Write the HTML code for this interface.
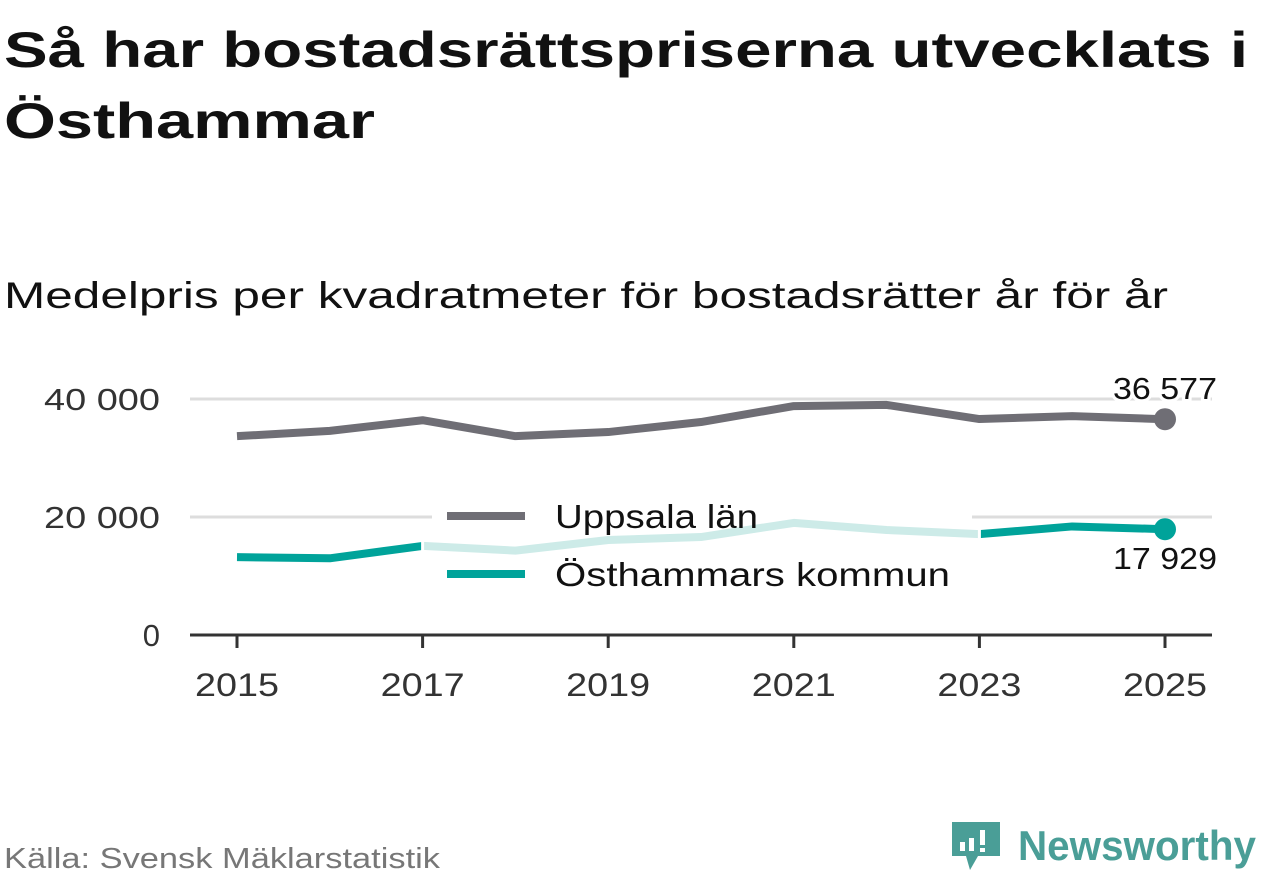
<!DOCTYPE html>
<html><head><meta charset="utf-8"><style>
body{margin:0;background:#fff;width:1262px;height:879px;overflow:hidden;font-family:"Liberation Sans",sans-serif;}
</style></head><body>
<svg width="1262" height="879" font-family="Liberation Sans, sans-serif">
<text x="4" y="67" font-size="50" font-weight="bold" fill="#111" textLength="1244" lengthAdjust="spacingAndGlyphs">Så har bostadsrättspriserna utvecklats i</text>
<text x="4" y="138" font-size="50" font-weight="bold" fill="#111" textLength="371" lengthAdjust="spacingAndGlyphs">Östhammar</text>
<text x="4" y="308" font-size="37" fill="#111" textLength="1164" lengthAdjust="spacingAndGlyphs">Medelpris per kvadratmeter för bostadsrätter år för år</text>
<g id="grid"></g>
<rect x="432" y="495" width="540" height="105" fill="#fff"/>
<g id="lines"></g>
<g id="legend">
<line x1="447" y1="516" x2="525" y2="516" stroke="#6f6e75" stroke-width="8"/>
<text x="555" y="528" font-size="33" fill="#111" textLength="203" lengthAdjust="spacingAndGlyphs">Uppsala län</text>
<line x1="447" y1="574" x2="525" y2="574" stroke="#00a39a" stroke-width="8"/>
<text x="555" y="586" font-size="33" fill="#111" textLength="395" lengthAdjust="spacingAndGlyphs">Östhammars kommun</text>
</g>
<text x="4" y="868" font-size="29" fill="#777" textLength="436" lengthAdjust="spacingAndGlyphs">Källa: Svensk Mäklarstatistik</text>
<g>
<path d="M952 822 h48 v34 h-22 l-8 14 l-4 -14 h-14 z" fill="#4a9e97"/>
<rect x="960" y="842" width="5" height="9" fill="#fff"/><rect x="969" y="838" width="5" height="13" fill="#fff"/><rect x="980" y="830" width="5" height="15" fill="#fff"/><rect x="980" y="848" width="5" height="4" fill="#fff"/>
<text x="1018" y="860" font-size="42" font-weight="bold" fill="#4a9e97" textLength="238" lengthAdjust="spacingAndGlyphs">Newsworthy</text>
</g>
</svg>
<script>
const years=[2015,2016,2017,2018,2019,2020,2021,2022,2023,2024,2025];
const uppsala=[33700,34600,36400,33700,34400,36100,38800,39000,36600,37100,36577];
const osthammar=[13200,13000,15100,14300,16100,16600,19000,17800,17100,18400,17929];
const yTicks=[0,20000,40000];
const xTicks=[2015,2017,2019,2021,2023,2025];
const NS="http://www.w3.org/2000/svg";
const x=v=>237+(v-2015)*92.8;
const y=v=>635-v*0.0059;
const grid=document.getElementById('grid'),lines=document.getElementById('lines');
function mk(tag,attrs,parent){const e=document.createElementNS(NS,tag);for(const k in attrs)e.setAttribute(k,attrs[k]);parent.appendChild(e);return e;}
yTicks.forEach(t=>{
 if(t>0){const l=mk('line',{x1:190,x2:1212,y1:y(t),y2:y(t),stroke:'#ddd','stroke-width':3},grid);
 
 }
 const label=t===0?'0':(t/1000)+' 000';
 const attrs={x:160,y:y(t)+11,'font-size':31,fill:'#333','text-anchor':'end'};
 if(t>0){attrs.textLength=116;attrs.lengthAdjust='spacingAndGlyphs';}
 const tx=mk('text',attrs,grid);
 tx.textContent=label;
 
 
});
const ax=mk('line',{x1:190,x2:1212,y1:635,y2:635,stroke:'#333','stroke-width':3},grid);


xTicks.forEach(t=>{
 const tk=mk('line',{x1:x(t),x2:x(t),y1:635,y2:648,stroke:'#333','stroke-width':3},grid);
 
 
 const tx=mk('text',{x:x(t),y:696,'font-size':32,fill:'#333','text-anchor':'middle',textLength:84,lengthAdjust:'spacingAndGlyphs'},grid);
 tx.textContent=t;
 
 
});
function pts(arr,a,b){return arr.slice(a,b+1).map((v,i)=>x(years[a+i])+','+y(v)).join(' ');}
const up=mk('polyline',{points:pts(uppsala,0,10),fill:'none',stroke:'#6f6e75','stroke-width':8,'stroke-linejoin':'round'},lines);


const segs=[[0,2,'#00a39a'],[2,8,'#cdebe8'],[8,10,'#00a39a']];
segs.forEach(s=>{
 const p=mk('polyline',{points:pts(osthammar,s[0],s[1]),fill:'none',stroke:s[2],'stroke-width':8,'stroke-linejoin':'round'},lines);
 
 
});
[2,8].forEach(i=>{
 const g=mk('line',{x1:x(years[i]),x2:x(years[i]),y1:y(osthammar[i])-5,y2:y(osthammar[i])+5,stroke:'#fff','stroke-width':3},lines);
 
 
});
const d1=mk('circle',{cx:x(2025),cy:y(uppsala[10]),r:11,fill:'#6f6e75'},lines);


const d2=mk('circle',{cx:x(2025),cy:y(osthammar[10]),r:11,fill:'#00a39a'},lines);


const fmt=v=>String(v).replace(/\B(?=(\d{3})+(?!\d))/g,' ');
const l1=mk('text',{x:1165,y:y(uppsala[10])-20,'font-size':31,fill:'#111','text-anchor':'middle',stroke:'#fff','stroke-width':6,'paint-order':'stroke',textLength:104,lengthAdjust:'spacingAndGlyphs'},lines);
l1.textContent=fmt(uppsala[10]);


const l2=mk('text',{x:1165,y:y(osthammar[10])+40,'font-size':31,fill:'#111','text-anchor':'middle',textLength:104,lengthAdjust:'spacingAndGlyphs'},lines);
l2.textContent=fmt(osthammar[10]);


</script>
</body></html>
